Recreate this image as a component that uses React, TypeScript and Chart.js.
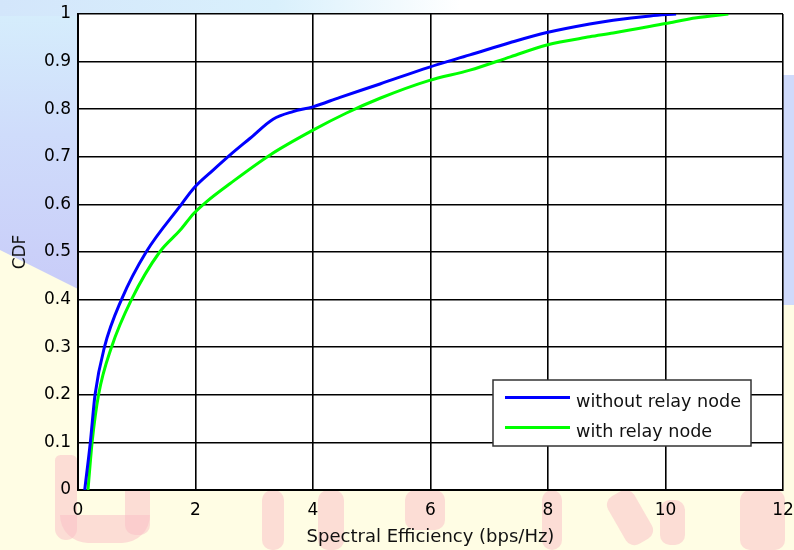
import React, { useEffect, useRef } from "react";
import { Chart, registerables } from "chart.js";

Chart.register(...registerables);

// Series: "without relay node" (blue) — x = spectral efficiency, y = CDF
const blueX = [0.114, 0.21, 0.29, 0.45, 0.74, 1.16, 1.76, 1.97, 2.3, 2.59, 2.93, 3.32, 3.66, 4.0, 4.46, 5.14, 5.97, 6.67, 7.36, 7.98, 8.71, 9.11, 9.74, 10.18];
const blueY = [0, 0.1, 0.2, 0.3, 0.4, 0.5, 0.6, 0.634, 0.672, 0.704, 0.739, 0.779, 0.795, 0.805, 0.825, 0.853, 0.888, 0.914, 0.94, 0.961, 0.979, 0.987, 0.996, 1.0];

// Series: "with relay node" (green)
const greenX = [0.17, 0.24, 0.35, 0.57, 0.91, 1.39, 1.74, 1.97, 2.19, 2.59, 3.27, 4.0, 4.57, 5.14, 5.97, 6.67, 7.36, 7.98, 8.71, 9.11, 10.0, 10.53, 11.07];
const greenY = [0, 0.1, 0.2, 0.3, 0.4, 0.5, 0.546, 0.581, 0.606, 0.644, 0.704, 0.756, 0.792, 0.823, 0.86, 0.882, 0.91, 0.935, 0.952, 0.96, 0.98, 0.992, 1.0];

const seriesNames = ["without relay node", "with relay node"];
const xTickLabels = ["0", "2", "4", "6", "8", "10", "12"];
const yTickLabels = ["0", "0.1", "0.2", "0.3", "0.4", "0.5", "0.6", "0.7", "0.8", "0.9", "1"];
const xTitle = "Spectral Efficiency (bps/Hz)";
const yTitle = "CDF";

const FONT = "'DejaVu Sans', 'Liberation Sans', Arial, sans-serif";
const BLUE = "#0000ff";
const GREEN = "#00ff00";

const plotBg = {
  id: "plotBg",
  beforeDraw(chart: any) {
    const { ctx, chartArea } = chart;
    ctx.save();
    ctx.fillStyle = "#ffffff";
    ctx.fillRect(chartArea.left, chartArea.top, chartArea.right - chartArea.left, chartArea.bottom - chartArea.top);
    ctx.restore();
  },
};

const boxLegend = {
  id: "boxLegend",
  afterDraw(chart: any) {
    const { ctx } = chart;
    const left = 493, top = 380, w = 258, h = 66;
    ctx.save();
    ctx.fillStyle = "#ffffff";
    ctx.fillRect(left, top, w, h);
    ctx.strokeStyle = "#333333";
    ctx.lineWidth = 1.5;
    ctx.strokeRect(left, top, w, h);
    const colors = [BLUE, GREEN];
    const lineYs = [397.5, 427.5];
    const baseYs = [407, 437];
    ctx.font = `17.6px ${FONT}`;
    ctx.textBaseline = "alphabetic";
    ctx.textAlign = "left";
    for (let i = 0; i < seriesNames.length; i++) {
      ctx.strokeStyle = colors[i];
      ctx.lineWidth = 3;
      ctx.beginPath();
      ctx.moveTo(505, lineYs[i]);
      ctx.lineTo(570, lineYs[i]);
      ctx.stroke();
      ctx.fillStyle = "#111111";
      ctx.fillText(seriesNames[i], 576, baseYs[i]);
    }
    ctx.restore();
  },
};

export default function App() {
  const canvasRef = useRef<HTMLCanvasElement | null>(null);

  useEffect(() => {
    const canvas = canvasRef.current;
    if (!canvas) return;
    const chart = new Chart(canvas, {
      type: "line",
      data: {
        datasets: [
          {
            label: seriesNames[0],
            data: blueX.map((x, i) => ({ x, y: blueY[i] })),
            borderColor: BLUE,
            backgroundColor: BLUE,
            borderWidth: 3,
            pointRadius: 0,
            fill: false,
            cubicInterpolationMode: "monotone",
          },
          {
            label: seriesNames[1],
            data: greenX.map((x, i) => ({ x, y: greenY[i] })),
            borderColor: GREEN,
            backgroundColor: GREEN,
            borderWidth: 3,
            pointRadius: 0,
            fill: false,
            cubicInterpolationMode: "monotone",
          },
        ],
      },
      options: {
        responsive: false,
        animation: false,
        events: [],
        layout: { padding: { top: 14, right: 11, left: 0, bottom: 0 } },
        plugins: {
          legend: { display: false },
          tooltip: { enabled: false },
        },
        scales: {
          x: {
            type: "linear",
            min: 0,
            max: 12,
            afterFit(scale: any) {
              scale.height = 60;
              scale.paddingLeft = 0;
              scale.paddingRight = 0;
            },
            ticks: {
              stepSize: 2,
              color: "#000",
              padding: 10,
              maxRotation: 0,
              font: { family: FONT, size: 17 },
              callback: (v: any) => xTickLabels[Math.round(Number(v) / 2)],
            },
            grid: { color: "#000", lineWidth: 1.6, drawTicks: false },
            border: { color: "#000", width: 2 },
            title: {
              display: true,
              text: xTitle,
              color: "#111",
              font: { family: FONT, size: 18 },
              padding: { top: 0, bottom: 2 },
            },
          },
          y: {
            type: "linear",
            min: 0,
            max: 1,
            afterFit(scale: any) {
              scale.width = 78;
              scale.paddingTop = 0;
              scale.paddingBottom = 0;
            },
            ticks: {
              stepSize: 0.1,
              color: "#000",
              padding: 7,
              font: { family: FONT, size: 17 },
              callback: (v: any) => yTickLabels[Math.round(Number(v) * 10)],
            },
            grid: { color: "#000", lineWidth: 1.6, drawTicks: false },
            border: { color: "#000", width: 2 },
            title: {
              display: true,
              text: yTitle,
              color: "#111",
              font: { family: FONT, size: 17 },
              padding: { top: 10, bottom: 0 },
            },
          },
        },
      },
      plugins: [plotBg, boxLegend],
    });
    return () => chart.destroy();
  }, []);

  const blob = (left: number, top: number, w: number, h: number, extra: any = {}) => (
    <div
      style={{
        position: "absolute",
        left,
        top,
        width: w,
        height: h,
        background: "rgba(250, 190, 198, 0.5)",
        borderRadius: 10,
        ...extra,
      }}
    />
  );

  return (
    <div
      style={{
        position: "fixed",
        left: 0,
        top: 0,
        width: 794,
        height: 550,
        overflow: "hidden",
        background: "#fffde4",
      }}
    >
      <div style={{ position: "absolute", left: 0, top: 0, width: 794, height: 16, background: "#ffffff" }} />
      <div style={{ position: "absolute", left: 770, top: 0, width: 24, height: 75, background: "#ffffff" }} />
      <div
        style={{
          position: "absolute",
          left: 0,
          top: 0,
          width: 90,
          height: 300,
          background: "linear-gradient(to bottom, #d6effc 0%, #cfdcfb 45%, #c8cbf8 100%)",
          clipPath: "polygon(0 0, 90px 0, 90px 295px, 0 250px)",
        }}
      />
      <div style={{ position: "absolute", left: 0, top: 0, width: 460, height: 16, background: "linear-gradient(to right, #d3e6fb 0%, #d9f0fc 60%, #ffffff 100%)" }} />
      <div style={{ position: "absolute", left: 780, top: 75, width: 14, height: 230, background: "#cfdafb" }} />
      {blob(55, 455, 22, 85, { borderRadius: "10px 10px 20px 20px" })}
      {blob(60, 515, 90, 28, { borderRadius: "0 0 40px 40px" })}
      {blob(125, 460, 25, 75)}
      {blob(262, 490, 22, 60)}
      {blob(318, 490, 26, 60)}
      {blob(405, 490, 40, 40)}
      {blob(542, 490, 20, 60)}
      {blob(615, 490, 30, 55, { transform: "rotate(-30deg)" })}
      {blob(660, 500, 25, 45)}
      {blob(740, 490, 45, 60)}
      <canvas ref={canvasRef} width={794} height={550} style={{ position: "absolute", left: 0, top: 0, display: "block" }} />
    </div>
  );
}
